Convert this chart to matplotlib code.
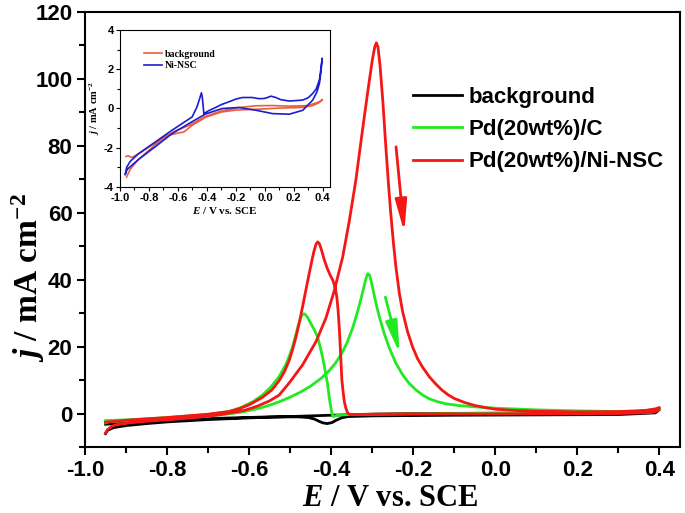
import numpy as np
import matplotlib
matplotlib.use("Agg")
import matplotlib.pyplot as plt
from matplotlib.ticker import MultipleLocator, FormatStrFormatter

# ---- main CV data (E / V vs SCE, j / mA cm-2) ----
# background
bg_fwd_x = [-0.95, -0.945, -0.93, -0.9, -0.85, -0.8, -0.7, -0.6, -0.5, -0.4, -0.3, -0.2, 0.0, 0.2, 0.3, 0.37, 0.4]
bg_fwd_y = [-6.0, -5.0, -4.2, -3.6, -3.0, -2.5, -1.8, -1.3, -0.9, -0.5, -0.2, 0.0, 0.1, 0.1, 0.2, 0.5, 1.2]
bg_rev_x = [0.39, 0.3, 0.1, -0.1, -0.3, -0.36, -0.375, -0.388, -0.398, -0.41, -0.42, -0.43, -0.44, -0.455,
            -0.48, -0.55, -0.7, -0.8, -0.9, -0.95]
bg_rev_y = [0.2, -0.3, -0.4, -0.5, -0.7, -0.9, -1.3, -2.0, -2.7, -3.0, -2.8, -2.3, -1.7, -1.2,
            -1.0, -1.0, -1.5, -2.0, -2.7, -3.2]

# Pd(20wt%)/C
pdc_fwd_x = [-0.95, -0.94, -0.9, -0.8, -0.7, -0.65, -0.62, -0.6, -0.575, -0.55, -0.525, -0.5, -0.475,
             -0.45, -0.425, -0.405, -0.39, -0.376, -0.362, -0.348, -0.338, -0.328, -0.32, -0.315,
             -0.311, -0.307, -0.303, -0.299, -0.291, -0.283, -0.271, -0.259, -0.243, -0.226, -0.21,
             -0.193, -0.177, -0.161, -0.14, -0.12, -0.09, -0.05, 0.0, 0.1, 0.2, 0.3, 0.36, 0.4]
pdc_fwd_y = [-2.8, -2.4, -2.2, -1.6, -0.8, -0.1, 0.4, 0.9, 1.6, 2.5, 3.6, 4.9, 6.4,
             8.2, 10.5, 12.8, 15.0, 17.6, 21.0, 25.5, 29.5, 34.0, 38.0, 40.5,
             41.8, 41.5, 39.8, 37.5, 33.0, 29.0, 24.0, 19.8, 15.2, 11.6, 9.0,
             7.0, 5.5, 4.4, 3.5, 2.9, 2.4, 2.0, 1.6, 1.1, 0.8, 0.6, 0.8, 1.4]
pdc_rev_x = [0.385, 0.3, 0.0, -0.2, -0.35, -0.385, -0.395, -0.398, -0.401, -0.405, -0.409, -0.415,
             -0.421, -0.427, -0.433, -0.441, -0.45, -0.458, -0.464, -0.468, -0.473, -0.48, -0.487,
             -0.494, -0.502, -0.51, -0.527, -0.548, -0.568, -0.59, -0.62, -0.649, -0.7, -0.8, -0.9, -0.95]
pdc_rev_y = [0.5, 0.3, 0.1, -0.1, -0.3, -0.5, -0.9, -0.2, 1.9, 5.0, 8.9, 13.0,
             16.8, 20.0, 22.8, 25.0, 27.0, 28.8, 29.7, 29.8, 29.0, 26.5, 23.2,
             20.0, 17.2, 14.8, 11.0, 7.8, 5.5, 3.6, 1.8, 0.6, -0.3, -1.2, -1.9, -2.1]

# Pd(20wt%)/Ni-NSC
pdn_fwd_x = [-0.95, -0.945, -0.935, -0.92, -0.9, -0.85, -0.8, -0.75, -0.7, -0.67, -0.64, -0.61, -0.58,
             -0.55, -0.527, -0.502, -0.47, -0.437, -0.413, -0.393, -0.372, -0.356, -0.34, -0.324,
             -0.31, -0.3, -0.294, -0.29, -0.286, -0.281, -0.274, -0.267, -0.261, -0.255, -0.248,
             -0.242, -0.234, -0.226, -0.214, -0.202, -0.19, -0.177, -0.161, -0.145, -0.13, -0.115,
             -0.1, -0.075, -0.05, -0.025, 0.0, 0.05, 0.1, 0.2, 0.3, 0.34, 0.37, 0.39, 0.4]
pdn_fwd_y = [-5.8, -4.8, -3.8, -3.2, -2.9, -2.3, -1.9, -1.4, -0.8, -0.3, 0.3, 1.0, 2.2,
             3.8, 5.5, 9.2, 14.5, 21.5, 28.5, 36.5, 46.8, 57.5, 69.7, 84.5,
             97.0, 105.5, 109.5, 110.8, 109.5, 104.0, 93.0, 80.0, 69.5, 60.0, 50.5,
             43.5, 36.0, 30.5, 24.5, 20.0, 16.5, 13.8, 11.0, 8.8, 7.0, 5.6,
             4.5, 3.3, 2.4, 1.8, 1.3, 0.9, 0.7, 0.5, 0.6, 0.75, 1.0, 1.4, 1.8]
pdn_rev_x = [0.395, 0.38, 0.3, 0.0, -0.2, -0.3, -0.355, -0.36, -0.364, -0.368, -0.371, -0.374, -0.376,
             -0.378, -0.38, -0.383, -0.386, -0.39, -0.396, -0.403, -0.41, -0.417, -0.424, -0.429,
             -0.433, -0.437, -0.442, -0.447, -0.452, -0.458, -0.464, -0.47, -0.478, -0.486, -0.494,
             -0.502, -0.514, -0.527, -0.545, -0.568, -0.6, -0.625, -0.649, -0.7, -0.8, -0.9, -0.95]
pdn_rev_y = [0.8, 0.3, 0.0, -0.1, -0.1, -0.2, -0.3, 0.2, 1.5, 3.5, 6.5, 10.0, 15.0,
             20.0, 25.0, 30.5, 34.5, 37.5, 39.8, 41.5, 43.5, 46.0, 49.0, 50.8,
             51.3, 50.6, 48.5, 45.8, 42.8, 39.2, 35.5, 31.8, 27.0, 22.8, 19.2,
             16.0, 12.5, 9.8, 7.0, 4.8, 2.6, 1.4, 0.6, -0.2, -1.2, -2.0, -2.6]

# scan direction arrows (tail, head)
red_arrow = [(-0.242, 79.7), (-0.222, 54.2)]
green_arrow = [(-0.268, 34.8), (-0.233, 17.9)]

# ---- inset data ----
ni_fwd_x = [-0.965, -0.95, -0.873, -0.757, -0.641, -0.525, -0.41, -0.294, -0.178, -0.06, 0.053, 0.169,
            0.262, 0.331, 0.36, 0.377, 0.388, 0.396]
ni_fwd_y = [-3.37, -3.1, -2.6, -1.95, -1.28, -0.77, -0.28, 0.0, 0.05, -0.09, -0.26, -0.29,
            -0.09, 0.43, 0.85, 1.28, 1.9, 2.56]
ni_rev_x = [0.385, 0.377, 0.355, 0.331, 0.3, 0.262, 0.169, 0.11, 0.076, 0.042, 0.015, -0.005, -0.04,
            -0.086, -0.155, -0.2, -0.248, -0.3, -0.34, -0.39, -0.421, -0.427, -0.432, -0.438,
            -0.448, -0.468, -0.502, -0.572, -0.641, -0.757, -0.873, -0.93, -0.954, -0.962]
ni_rev_y = [1.9, 1.46, 1.0, 0.77, 0.55, 0.43, 0.38, 0.45, 0.56, 0.63, 0.55, 0.51, 0.5,
            0.56, 0.56, 0.48, 0.34, 0.2, 0.05, -0.12, -0.26, 0.2, 0.6, 0.8,
            0.55, 0.09, -0.43, -0.77, -1.11, -1.71, -2.31, -2.7, -3.0, -3.3]
bgi_fwd_x = [-0.955, -0.93, -0.873, -0.757, -0.68, -0.6, -0.56, -0.5, -0.41, -0.3, -0.2, -0.06,
             0.1, 0.25, 0.33, 0.37, 0.398]
bgi_fwd_y = [-3.5, -3.1, -2.6, -1.85, -1.4, -1.25, -1.2, -0.85, -0.45, -0.18, -0.08, -0.04,
             0.02, 0.05, 0.15, 0.28, 0.46]
bgi_rev_x = [0.38, 0.3, 0.17, 0.05, -0.06, -0.18, -0.3, -0.41, -0.52, -0.62, -0.757, -0.87,
             -0.92, -0.945, -0.958]
bgi_rev_y = [0.35, 0.15, 0.12, 0.15, 0.14, 0.05, -0.12, -0.4, -0.85, -1.15, -1.75, -2.3,
             -2.5, -2.4, -2.45]

plt.rcParams['axes.unicode_minus'] = False
plt.rcParams['mathtext.fontset'] = 'custom'
plt.rcParams['mathtext.rm'] = 'Liberation Serif:bold'
plt.rcParams['mathtext.it'] = 'Liberation Serif:italic:bold'
plt.rcParams['mathtext.bf'] = 'Liberation Serif:bold'

SANS = 'Liberation Sans'
SERIF = 'Liberation Serif'
RED = '#f51616'
GREEN = '#22ea22'

fig = plt.figure(figsize=(6.85, 5.13), dpi=100)
ax = fig.add_axes([85 / 685, 1 - 447 / 513, 595 / 685, 435 / 513])

ax.plot(bg_fwd_x + bg_rev_x, bg_fwd_y + bg_rev_y, color='k', lw=2, label='background')
ax.plot(pdc_fwd_x + pdc_rev_x, pdc_fwd_y + pdc_rev_y, color=GREEN, lw=2, label='Pd(20wt%)/C')
ax.plot(pdn_fwd_x + pdn_rev_x, pdn_fwd_y + pdn_rev_y, color=RED, lw=2, label='Pd(20wt%)/Ni-NSC')

for (tail, head), c in [(red_arrow, RED), (green_arrow, GREEN)]:
    ax.annotate('', xy=head, xytext=tail,
                arrowprops=dict(arrowstyle='-|>,head_length=1.2,head_width=0.22',
                                color=c, lw=2, mutation_scale=16, shrinkA=0, shrinkB=0))

ax.set_xlim(-1.0, 0.45)
ax.set_ylim(-10, 120)
ax.xaxis.set_major_locator(MultipleLocator(0.2))
ax.xaxis.set_minor_locator(MultipleLocator(0.1))
ax.xaxis.set_major_formatter(FormatStrFormatter('%.1f'))
ax.yaxis.set_major_locator(MultipleLocator(20))
ax.yaxis.set_minor_locator(MultipleLocator(10))
ax.tick_params(which='both', direction='out', width=1.5, top=False, right=False)
ax.tick_params(which='major', length=6, labelsize=16, pad=3)
ax.tick_params(which='minor', length=4)
for lab in ax.get_xticklabels() + ax.get_yticklabels():
    lab.set_fontfamily(SANS)
    lab.set_fontweight('bold')
for sp in ax.spines.values():
    sp.set_linewidth(1.5)

ax.set_xlabel(r'$E$ / V vs. SCE', fontfamily=SERIF, fontweight='bold', fontsize=22)
ax.set_ylabel(r'$j$ / mA cm$^{-2}$', fontfamily=SERIF, fontweight='bold', fontsize=24)
ax.xaxis.set_label_coords(0.513, -0.085)
ax.yaxis.set_label_coords(-0.064, 0.39)

ax.legend(loc='upper left', bbox_to_anchor=(402 / 685, 1 - 76 / 513), bbox_transform=fig.transFigure,
          frameon=False, borderpad=0, handlelength=2.2, handletextpad=0.3, labelspacing=0.5,
          prop={'family': SANS, 'weight': 'bold', 'size': 16})

# ---- inset ----
axi = fig.add_axes([120 / 685, 1 - 187 / 513, 210 / 685, 157 / 513])
axi.plot(bgi_fwd_x + bgi_rev_x, bgi_fwd_y + bgi_rev_y, color='#e8603c', lw=1.2, label='background')
axi.plot(ni_fwd_x + ni_rev_x, ni_fwd_y + ni_rev_y, color='#1c1cd0', lw=1.2, label='Ni-NSC')
axi.set_xlim(-1.0, 0.45)
axi.set_ylim(-4, 4)
axi.xaxis.set_major_locator(MultipleLocator(0.2))
axi.xaxis.set_minor_locator(MultipleLocator(0.1))
axi.xaxis.set_major_formatter(FormatStrFormatter('%.1f'))
axi.yaxis.set_major_locator(MultipleLocator(2))
axi.yaxis.set_minor_locator(MultipleLocator(1))
axi.tick_params(which='both', direction='out', width=0.8, top=False, right=False)
axi.tick_params(which='major', length=3, labelsize=8, pad=1.5)
axi.tick_params(which='minor', length=2)
for lab in axi.get_xticklabels() + axi.get_yticklabels():
    lab.set_fontfamily(SANS)
    lab.set_fontweight('bold')
for sp in axi.spines.values():
    sp.set_linewidth(0.8)
axi.set_xlabel(r'$E$ / V vs. SCE', fontfamily=SERIF, fontweight='bold', fontsize=8, labelpad=1)
axi.set_ylabel(r'$j$ / mA cm$^{-2}$', fontfamily=SERIF, fontweight='bold', fontsize=7.5, labelpad=1)
axi.legend(loc='upper left', bbox_to_anchor=(139 / 685, 1 - 45 / 513), bbox_transform=fig.transFigure,
           frameon=False, borderpad=0, handlelength=1.9, handletextpad=0.3, labelspacing=0.25,
           prop={'family': SERIF, 'weight': 'bold', 'size': 7})

fig.savefig('out.png', dpi=100)
